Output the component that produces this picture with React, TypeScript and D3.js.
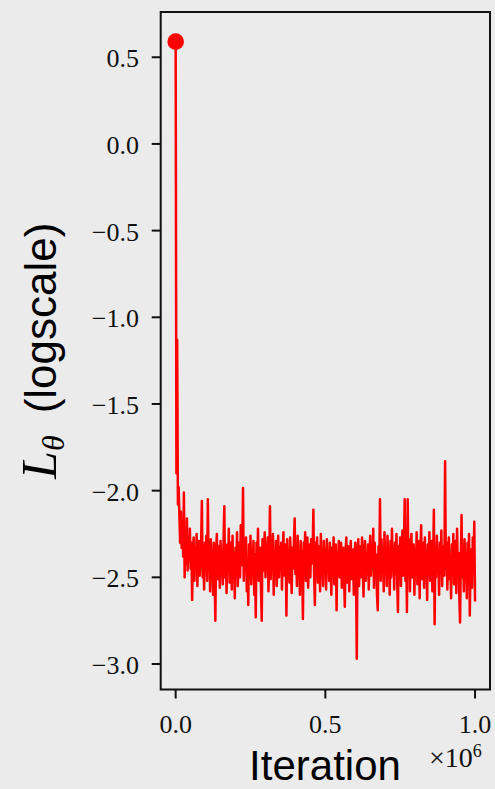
import React, { useEffect } from "react";
import * as d3 from "d3";

const STEP = 2500;
const lossValues: number[] = [
  0.59, -1.9, -1.13, -2.08, -1.98, -2.15, -2.3, -2.12, -2.33, -2.2, -2.38, -2.01, -2.5, -2.24, -2.42, -2.16, -2.46, -2.28, -2.4, -2.22,
  -2.45, -2.3, -2.63, -2.35, -2.27, -2.52, -2.33, -2.44, -2.25, -2.55, -2.37, -2.29, -2.49, -2.4, -2.31, -2.06, -2.5, -2.36, -2.57, -2.3,
  -2.42, -2.26, -2.52, -2.05, -2.46, -2.34, -2.58, -2.28, -2.43, -2.38, -2.6, -2.3, -2.47, -2.75, -2.36, -2.25, -2.51, -2.4, -2.32, -2.56,
  -2.29, -2.45, -2.37, -2.54, -2.28, -2.09, -2.5, -2.35, -2.59, -2.31, -2.44, -2.22, -2.53, -2.39, -2.3, -2.57, -2.26, -2.48, -2.36, -2.62,
  -2.33, -2.46, -2.24, -2.55, -2.38, -2.3, -2.5, -2.2, -2.43, -2.36, -1.985, -2.52, -2.32, -2.45, -2.27, -2.58, -2.4, -2.66, -2.31, -2.47,
  -2.26, -2.54, -2.35, -2.44, -2.29, -2.6, -2.37, -2.73, -2.3, -2.48, -2.22, -2.52, -2.4, -2.33, -2.56, -2.75, -2.28, -2.46, -2.36, -2.24,
  -2.5, -2.34, -2.43, -2.27, -2.58, -2.39, -2.09, -2.51, -2.31, -2.45, -2.25, -2.6, -2.35, -2.47, -2.29, -2.55, -2.38, -2.26, -2.5, -2.33,
  -2.44, -2.3, -2.57, -2.36, -2.24, -2.49, -2.4, -2.31, -2.72, -2.28, -2.46, -2.35, -2.53, -2.27, -2.42, -2.59, -2.33, -2.45, -2.3, -2.16,
  -2.48, -2.34, -2.55, -2.26, -2.43, -2.38, -2.6, -2.29, -2.47, -2.35, -2.74, -2.3, -2.44, -2.24, -2.52, -2.37, -2.27, -2.56, -2.4, -2.31,
  -2.5, -2.28, -2.42, -2.35, -2.11, -2.48, -2.66, -2.3, -2.45, -2.27, -2.53, -2.38, -2.32, -2.58, -2.25, -2.46, -2.36, -2.55, -2.29, -2.43,
  -2.34, -2.57, -2.28, -2.45, -2.37, -2.52, -2.3, -2.41, -2.6, -2.33, -2.47, -2.27, -2.54, -2.39, -2.31, -2.69, -2.36, -2.44, -2.29, -2.5,
  -2.38, -2.3, -2.56, -2.41, -2.33, -2.49, -2.67, -2.35, -2.27, -2.53, -2.4, -2.32, -2.58, -2.37, -2.29, -2.51, -2.43, -2.34, -2.6, -2.39,
  -2.3, -2.47, -2.97, -2.36, -2.28, -2.55, -2.4, -2.32, -2.5, -2.27, -2.44, -2.61, -2.35, -2.29, -2.52, -2.38, -2.46, -2.31, -2.57, -2.36,
  -2.26, -2.49, -2.34, -2.42, -2.22, -2.56, -2.3, -2.45, -2.37, -2.6, -2.69, -2.32, -2.47, -2.05, -2.52, -2.28, -2.43, -2.35, -2.58, -2.24,
  -2.46, -2.33, -2.55, -2.26, -2.41, -2.37, -2.6, -2.29, -2.5, -2.22, -2.44, -2.35, -2.57, -2.3, -2.48, -2.25, -2.53, -2.7, -2.32, -2.45,
  -2.27, -2.55, -2.38, -2.23, -2.49, -2.33, -2.05, -2.52, -2.3, -2.7, -2.05, -2.46, -2.28, -2.58, -2.36, -2.25, -2.5, -2.4, -2.31, -2.6,
  -2.34, -2.47, -2.24, -2.54, -2.38, -2.29, -2.62, -2.36, -2.2, -2.51, -2.42, -2.3, -2.56, -2.27, -2.45, -2.35, -2.63, -2.31, -2.48, -2.24,
  -2.52, -2.37, -2.29, -2.58, -2.4, -2.11, -2.77, -2.33, -2.5, -2.26, -2.44, -2.36, -2.6, -2.3, -2.47, -2.23, -2.55, -2.38, -2.32, -2.49,
  -1.83, -2.45, -2.3, -2.57, -2.35, -2.27, -2.51, -2.4, -2.62, -2.31, -2.46, -2.25, -2.54, -2.37, -2.29, -2.59, -2.22, -2.48, -2.36, -2.61,
  -2.76, -2.4, -2.14, -2.5, -2.33, -2.58, -2.28, -2.45, -2.37, -2.62, -2.3, -2.49, -2.25, -2.72, -2.41, -2.34, -2.56, -2.27, -2.46, -2.18, -2.64,
];
const iterations: number[] = lossValues.map((_, i) => i * STEP);

const yTicks: number[] = [0.5, 0.0, -0.5, -1.0, -1.5, -2.0, -2.5, -3.0];
const xTicks: number[] = [0, 0.5e6, 1.0e6];

const W = 495;
const H = 789;
const L = 160.7;
const R = 490;
const T = 12;
const B = 689.5;
const BG = "#ebebeb";

const fmt = (v: number) => (v < 0 ? "\u2212" : "") + Math.abs(v).toFixed(1);

export default function App() {
  useEffect(() => {
    document.body.style.margin = "0";
    document.body.style.background = BG;
  }, []);

  const x = d3.scaleLinear().domain([-0.05e6, 1.05e6]).range([L, R]);
  const y = d3.scaleLinear().domain([-3.147, 0.761]).range([B, T]);
  const line = d3
    .line<number>()
    .x((_, i) => x(iterations[i]))
    .y((d) => y(d));

  const serif = "'Liberation Serif', 'DejaVu Serif', serif";
  const sans = "'Liberation Sans', Arial, sans-serif";

  return (
    <svg width={W} height={H} style={{ display: "block", background: BG }}>
      <rect x={0} y={0} width={W} height={H} fill={BG} />
      <path d={line(lossValues) || ""} fill="none" stroke="#ff0000" strokeWidth={2.5} strokeLinejoin="round" />
      <circle cx={x(iterations[0])} cy={y(lossValues[0])} r={8.3} fill="#ff0000" />
      <rect x={L} y={T} width={R - L} height={B - T} fill="none" stroke="#111" strokeWidth={2} />
      {yTicks.map((t) => (
        <g key={"y" + t}>
          <line x1={L - 9} x2={L} y1={y(t)} y2={y(t)} stroke="#111" strokeWidth={2} />
          <text x={139} y={y(t) + 10} textAnchor="end" fontFamily={serif} fontSize={26} fill="#111">
            {fmt(t)}
          </text>
        </g>
      ))}
      {xTicks.map((t) => (
        <g key={"x" + t}>
          <line x1={x(t)} x2={x(t)} y1={B} y2={B + 9} stroke="#111" strokeWidth={2} />
          <text x={x(t)} y={733} textAnchor="middle" fontFamily={serif} fontSize={26} fill="#111">
            {fmt(t / 1e6)}
          </text>
        </g>
      ))}
      <text x={325} y={780} textAnchor="middle" fontFamily={sans} fontSize={42} fill="#000">
        Iteration
      </text>
      <text x={429} y={767} fontFamily={serif} fontSize={28} fill="#111">
        {"\u00d710"}
        <tspan dy={-10} fontSize={18}>6</tspan>
      </text>
      <g transform={`translate(56, ${(T + B) / 2}) rotate(-90)`}>
        <text x={0} y={0} textAnchor="middle" fontFamily={sans} fontSize={44} fill="#000">
          <tspan fontFamily={serif} fontStyle="italic" fontSize={50}>L</tspan>
          <tspan fontFamily={serif} fontStyle="italic" fontSize={32} dy={8}>θ</tspan>
          <tspan dy={-8}>{"\u2002(logscale)"}</tspan>
        </text>
      </g>
    </svg>
  );
}
